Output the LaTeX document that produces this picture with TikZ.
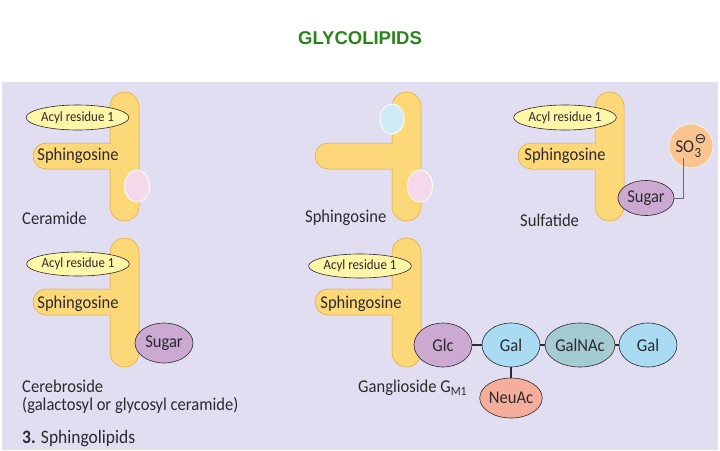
\documentclass[tikz,border=0pt]{standalone}
\usepackage{fontspec}
\setmainfont{Carlito}[FakeStretch=0.92]
\newfontfamily\titlefont{Liberation Sans}
\newfontfamily\signfont{DejaVu Sans}
\usetikzlibrary{shapes.geometric}
\definecolor{panelbg}{HTML}{E0DEF0}
\definecolor{tailfill}{HTML}{FDD878}
\definecolor{tailedge}{HTML}{E2A43C}
\definecolor{acylfill}{HTML}{FFF6A8}
\definecolor{inkdark}{HTML}{2B2A2E}
\definecolor{headpink}{HTML}{F5D9EA}
\definecolor{headblue}{HTML}{CFEAF7}
\definecolor{sugarpurple}{HTML}{CBA9D1}
\definecolor{sulforange}{HTML}{FBC48F}
\definecolor{galblue}{HTML}{A9DCF2}
\definecolor{nacteal}{HTML}{A4CBD1}
\definecolor{neusalmon}{HTML}{F5AE9B}
\definecolor{titlegreen}{HTML}{2A8519}

\tikzset{
  acyl/.style={ellipse, draw=inkdark, fill=acylfill, line width=0.6pt, inner sep=0pt,
    minimum width=89pt, minimum height=25pt, font=\fontsize{14}{14}\selectfont},
  armtext/.style={inner sep=0pt, font=\fontsize{18}{18}\selectfont},
  caption/.style={anchor=west, inner sep=0pt, font=\fontsize{18}{18}\selectfont},
  bead/.style={ellipse, draw=white, line width=0.9pt, inner sep=0pt,
    minimum width=25pt, minimum height=32pt},
  sugar/.style={ellipse, draw=inkdark, line width=0.6pt, inner sep=0pt,
    minimum width=58pt, minimum height=44pt, font=\fontsize{18}{18}\selectfont},
  link/.style={draw=inkdark, line width=1.5pt},
  tie/.style={draw=inkdark!70, line width=0.5pt}
}

% T-shaped tail: bar with sphingosine arm, origin at top left of bar
\newcommand{\lipidT}[2]{%
  \begin{scope}[shift={(#1,#2)}]
    \filldraw[fill=tailfill, draw=tailedge, line width=0.5pt, rounded corners=13pt]
      (5,51) -- (-77,51) -- (-77,77) -- (5,77);
    \filldraw[fill=tailfill, draw=tailedge, line width=0.5pt, rounded corners=14.5pt]
      (0,0) rectangle (29,129);
    \fill[tailfill] (-2,51.5) rectangle (2,76.5);
  \end{scope}}

\begin{document}
\begin{tikzpicture}[x=1pt, y=-1pt, color=inkdark]
  \useasboundingbox (0,0) rectangle (720,450);
  \fill[white] (0,0) rectangle (720,450);
  \fill[panelbg] (2,82) rectangle (718,450);

  % Title
  \node[titlegreen, font=\titlefont\bfseries\fontsize{18.5}{18.5}\selectfont] (title) at (360,38) {GLYCOLIPIDS};

  % Ceramide
  \lipidT{110}{92}
  \node[acyl] (acyl1) at (77.5,117.5) {Acyl residue 1};
  \node[armtext] (sph1) at (78,156) {Sphingosine};
  \node[bead, fill=headpink] (head1) at (137,186) {};
  \node[caption] (cap1) at (22,218) {Ceramide};

  % Sphingosine
  \lipidT{392}{92}
  \node[bead, fill=headblue, minimum width=24pt, minimum height=30pt] (head2a) at (392,119) {};
  \node[bead, fill=headpink] (head2b) at (420,186) {};
  \node[caption] (cap2) at (305,218) {Sphingosine};

  % Sulfatide
  \lipidT{595}{92}
  \node[acyl] (acyl3) at (565,117.5) {Acyl residue 1};
  \node[armtext] (sph3) at (565,156) {Sphingosine};
  \node[sugar, fill=sugarpurple, minimum width=56pt, minimum height=35pt] (sugar3) at (646,198) {Sugar};
  \node[circle, draw=white, line width=0.6pt, fill=sulforange, minimum size=44pt, inner sep=0pt,
    font=\fontsize{18}{18}\selectfont] (so3) at (691,146)
    {SO\kern0.5pt\rlap{\fontsize{14}{14}\selectfont\raisebox{-5pt}{3}}%
     \raisebox{9pt}{\signfont\fontsize{14}{14}\selectfont ⊖}};
  \draw[tie] (sugar3.east) -| ([xshift=-8pt, yshift=-12pt]so3.center);
  \node[caption] (cap3) at (520,220) {Sulfatide};

  % Cerebroside
  \lipidT{110}{238}
  \node[acyl, minimum height=24pt] (acyl4) at (78,264) {Acyl residue 1};
  \node[armtext] (sph4) at (78,304) {Sphingosine};
  \node[sugar, fill=sugarpurple, minimum height=40pt] (sugar4) at (164,343) {Sugar};
  \node[caption] (cap4a) at (22,386) {Cerebroside};
  \node[caption] (cap4b) at (22,405) {(galactosyl or glycosyl ceramide)};

  % Ganglioside
  \lipidT{392}{238}
  \node[acyl, minimum height=24pt] (acyl5) at (360,266) {Acyl residue 1};
  \node[armtext] (sph5) at (361,304) {Sphingosine};
  \node[sugar, fill=sugarpurple] (glc) at (443,345) {Glc};
  \node[sugar, fill=galblue] (gal1) at (511,345) {Gal};
  \node[sugar, fill=nacteal] (galnac) at (580,345) {GalNAc};
  \node[sugar, fill=galblue] (gal2) at (648,345) {Gal};
  \node[sugar, fill=neusalmon, minimum width=55pt, minimum height=40pt] (neuac) at (511,398) {NeuAc};
  \draw[link] (glc) -- (gal1);
  \draw[link] (gal1) -- (galnac);
  \draw[link] (galnac) -- (gal2);
  \draw[link] (gal1) -- (neuac);
  \node[caption] (cap5) at (358,388) {Ganglioside G\textsubscript{M1}};

  % Panel caption
  \node[caption, font=\fontsize{19}{19}\selectfont] (panel) at (22,439) {\textbf{3.} Sphingolipids};
\end{tikzpicture}
\end{document}
